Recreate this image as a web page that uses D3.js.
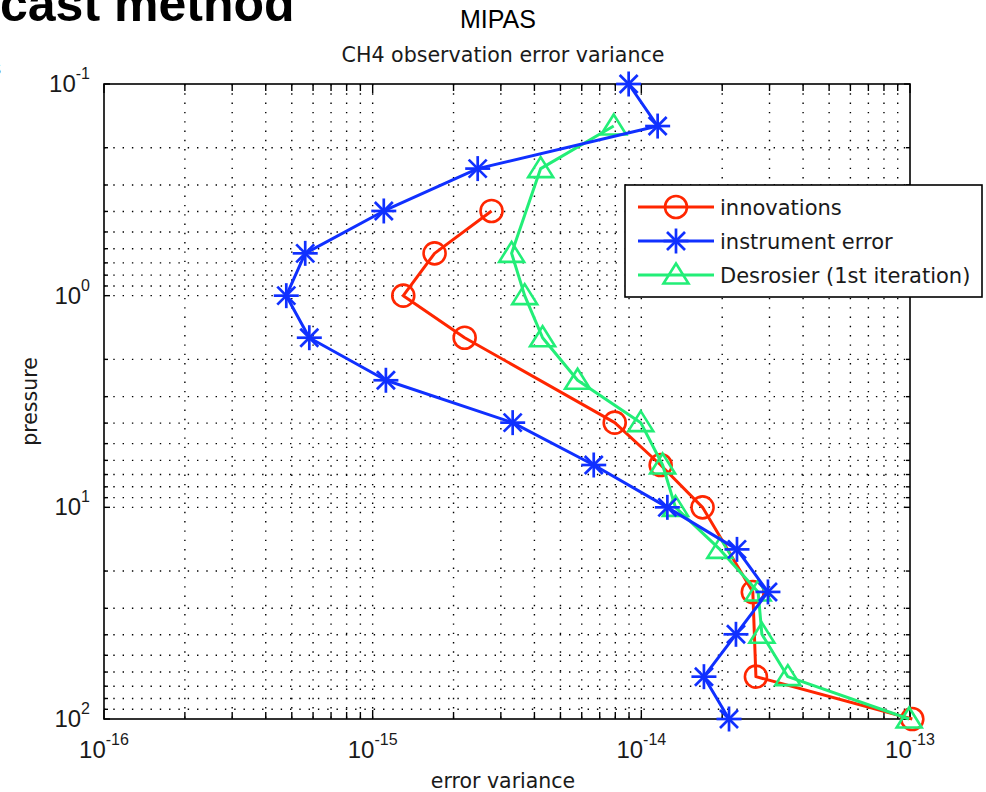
<!DOCTYPE html>
<html>
<head>
<meta charset="utf-8">
<script src="https://cdn.jsdelivr.net/npm/d3@7"></script>
<style>
  body { margin: 0; background: #fff; }
  svg { display: block; }
</style>
</head>
<body>
<div id="chart"></div>
<script>
// pressure levels and error variances
const innovPressure = [0.398, 0.631, 1, 1.58, 3.98, 6.31, 10, 25.1, 63.1, 100];
const innovValues = [2.77e-15, 1.70e-15, 1.30e-15, 2.20e-15, 7.96e-15, 1.18e-14, 1.69e-14, 2.60e-14, 2.67e-14, 1.02e-13];

const instrPressure = [0.1, 0.158, 0.251, 0.398, 0.631, 1, 1.58, 2.51, 3.98, 6.31, 10, 15.8, 25.1, 39.8, 63.1, 100];
const instrValues = [8.97e-15, 1.15e-14, 2.46e-15, 1.10e-15, 5.61e-16, 4.77e-16, 5.81e-16, 1.12e-15, 3.32e-15, 6.65e-15, 1.25e-14, 2.27e-14, 2.96e-14, 2.25e-14, 1.71e-14, 2.12e-14];

const desroPressure = [0.158, 0.251, 0.631, 1, 1.58, 2.51, 3.98, 6.31, 10, 15.8, 25.1, 39.8, 63.1, 100];
const desroValues = [7.89e-15, 4.22e-15, 3.29e-15, 3.68e-15, 4.29e-15, 5.79e-15, 9.95e-15, 1.20e-14, 1.34e-14, 1.96e-14, 2.72e-14, 2.81e-14, 3.51e-14, 9.93e-14];

const seriesNames = ["innovations", "instrument error", "Desrosier (1st iteration)"];
const xTickExps = [-16, -15, -14, -13];
const yTickExps = [-1, 0, 1, 2];

const width = 986;
const height = 792;
const marginLeft = 104;
const marginRight = 76;
const marginTop = 84;
const marginBottom = 73;

const labelFont = "'DejaVu Sans', sans-serif";
const tickFont = "'Liberation Sans Narrow', 'Arial Narrow', 'Liberation Sans', Arial, sans-serif";

const svg = d3.select("#chart")
  .append("svg")
  .attr("width", width)
  .attr("height", height)
  .attr("viewBox", [0, 0, width, height]);

const x = d3.scaleLog()
  .domain([1e-16, 1e-13])
  .range([marginLeft, width - marginRight]);

const y = d3.scaleLog()
  .domain([0.1, 100])
  .range([marginTop, height - marginBottom]);

const x0 = x.range()[0], x1 = x.range()[1];
const y0 = y.range()[0], y1 = y.range()[1];

// cropped slide heading behind the figure (cut by the page edge, as in the source)
svg.append("text")
  .attr("x", 0)
  .attr("y", 21)
  .attr("font-family", "'Liberation Sans', Arial, sans-serif")
  .attr("font-weight", "bold")
  .attr("font-size", 50)
  .attr("fill", "#000")
  .text("cast method");

svg.append("text")
  .attr("x", -10)
  .attr("y", 75)
  .attr("font-family", "'Liberation Sans', Arial, sans-serif")
  .attr("font-size", 22)
  .attr("fill", "#000")
  .text("s");

// titles
svg.append("text")
  .attr("x", 498)
  .attr("y", 28)
  .attr("text-anchor", "middle")
  .attr("font-family", "'Liberation Sans', Arial, sans-serif")
  .attr("font-size", 25)
  .text("MIPAS");

svg.append("text")
  .attr("x", 503)
  .attr("y", 62)
  .attr("text-anchor", "middle")
  .attr("font-family", labelFont)
  .attr("font-size", 20.6)
  .attr("fill", "#1a1a1a")
  .text("CH4 observation error variance");

// plot area
svg.append("rect")
  .attr("x", x0).attr("y", y0)
  .attr("width", x1 - x0).attr("height", y1 - y0)
  .attr("fill", "#fff");

const isMajor = v => Math.abs(Math.log10(v) - Math.round(Math.log10(v))) < 1e-6;

// dotted grid at every major and minor tick
const grid = svg.append("g")
  .attr("stroke", "#000")
  .attr("stroke-width", 1.4)
  .attr("stroke-dasharray", "1.4,7.9");

grid.selectAll("line.gx")
  .data(x.ticks().filter(v => x(v) > x0 + 1 && x(v) < x1 - 1))
  .join("line")
  .attr("class", "gx")
  .attr("x1", d => x(d)).attr("x2", d => x(d))
  .attr("y1", y0).attr("y2", y1);

grid.selectAll("line.gy")
  .data(y.ticks().filter(v => y(v) > y0 + 1 && y(v) < y1 - 1))
  .join("line")
  .attr("class", "gy")
  .attr("y1", d => y(d)).attr("y2", d => y(d))
  .attr("x1", x0).attr("x2", x1);

// inward ticks on all four sides
const ticks = svg.append("g")
  .attr("stroke", "#000")
  .attr("stroke-width", 1.4);

x.ticks().forEach(v => {
  const len = isMajor(v) ? 9 : 7;
  ticks.append("line").attr("x1", x(v)).attr("x2", x(v)).attr("y1", y1).attr("y2", y1 - len);
  ticks.append("line").attr("x1", x(v)).attr("x2", x(v)).attr("y1", y0).attr("y2", y0 + len);
});

y.ticks().forEach(v => {
  const len = isMajor(v) ? 6 : 4;
  ticks.append("line").attr("y1", y(v)).attr("y2", y(v)).attr("x1", x0).attr("x2", x0 + len);
  ticks.append("line").attr("y1", y(v)).attr("y2", y(v)).attr("x1", x1).attr("x2", x1 - len);
});

// box
svg.append("rect")
  .attr("x", x0).attr("y", y0)
  .attr("width", x1 - x0).attr("height", y1 - y0)
  .attr("fill", "none")
  .attr("stroke", "#000")
  .attr("stroke-width", 1.6);

// power-of-ten tick labels
function powerLabel(g, base, exp) {
  g.append("tspan")
    .attr("font-family", tickFont)
    .attr("font-size", 24)
    .text(base);
  g.append("tspan")
    .attr("font-family", "'Liberation Sans', Arial, sans-serif")
    .attr("font-size", 16)
    .attr("dy", -13)
    .text(exp);
}

xTickExps.forEach(e => {
  const t = svg.append("text")
    .attr("x", x(Math.pow(10, e)))
    .attr("y", 758)
    .attr("text-anchor", "middle")
    .attr("fill", "#1a1a1a");
  powerLabel(t, "10", e);
});

yTickExps.forEach(e => {
  const t = svg.append("text")
    .attr("x", 90)
    .attr("y", y(Math.pow(10, e)) + 8)
    .attr("text-anchor", "end")
    .attr("fill", "#1a1a1a");
  powerLabel(t, "10", e);
});

// axis labels
svg.append("text")
  .attr("x", 503)
  .attr("y", 788)
  .attr("text-anchor", "middle")
  .attr("font-family", labelFont)
  .attr("font-size", 20.5)
  .attr("fill", "#1a1a1a")
  .text("error variance");

svg.append("text")
  .attr("transform", `translate(37,${(y0 + y1) / 2}) rotate(-90)`)
  .attr("text-anchor", "middle")
  .attr("font-family", labelFont)
  .attr("font-size", 20.5)
  .attr("fill", "#1a1a1a")
  .text("pressure");

// markers
function drawMarker(g, kind, color) {
  if (kind === "circle") {
    g.append("circle").attr("r", 11)
      .attr("fill", "none").attr("stroke", color).attr("stroke-width", 2.6);
  } else if (kind === "star") {
    const r = 12.5, d = 9;
    [[-r, 0, r, 0], [0, -r, 0, r], [-d, -d, d, d], [-d, d, d, -d]].forEach(s => {
      g.append("line")
        .attr("x1", s[0]).attr("y1", s[1]).attr("x2", s[2]).attr("y2", s[3])
        .attr("stroke", color).attr("stroke-width", 2.7);
    });
  } else {
    g.append("path").attr("d", "M0,-11.5L12.5,8.5L-12.5,8.5Z")
      .attr("fill", "none").attr("stroke", color).attr("stroke-width", 2.6)
      .attr("stroke-linejoin", "miter");
  }
}

const series = [
  { name: seriesNames[0], p: innovPressure, v: innovValues, color: "#ff2600", marker: "circle" },
  { name: seriesNames[2], p: desroPressure, v: desroValues, color: "#22ee77", marker: "triangle" },
  { name: seriesNames[1], p: instrPressure, v: instrValues, color: "#1030ff", marker: "star" }
];

const line = d3.line()
  .x(d => x(d[0]))
  .y(d => y(d[1]));

series.forEach(s => {
  const pts = s.v.map((v, i) => [v, s.p[i]]);
  svg.append("path")
    .datum(pts)
    .attr("fill", "none")
    .attr("stroke", s.color)
    .attr("stroke-width", 3)
    .attr("stroke-linejoin", "round")
    .attr("d", line);
  pts.forEach(d => {
    const g = svg.append("g").attr("transform", `translate(${x(d[0])},${y(d[1])})`);
    drawMarker(g, s.marker, s.color);
  });
});

// legend
const legend = svg.append("g");
legend.append("rect")
  .attr("x", 625).attr("y", 185)
  .attr("width", 357).attr("height", 112)
  .attr("fill", "#fff")
  .attr("stroke", "#000")
  .attr("stroke-width", 1.6);

const legendOrder = [series[0], series[2], series[1]];
legendOrder.forEach((s, i) => {
  const cy = 207 + i * 34;
  legend.append("line")
    .attr("x1", 638).attr("x2", 714)
    .attr("y1", cy).attr("y2", cy)
    .attr("stroke", s.color).attr("stroke-width", 3.2);
  const g = legend.append("g").attr("transform", `translate(676,${cy})`);
  drawMarker(g, s.marker, s.color);
  legend.append("text")
    .attr("x", 720)
    .attr("y", cy + 8)
    .attr("font-family", labelFont)
    .attr("font-size", 21)
    .attr("fill", "#1a1a1a")
    .text(s.name);
});
</script>
</body>
</html>
